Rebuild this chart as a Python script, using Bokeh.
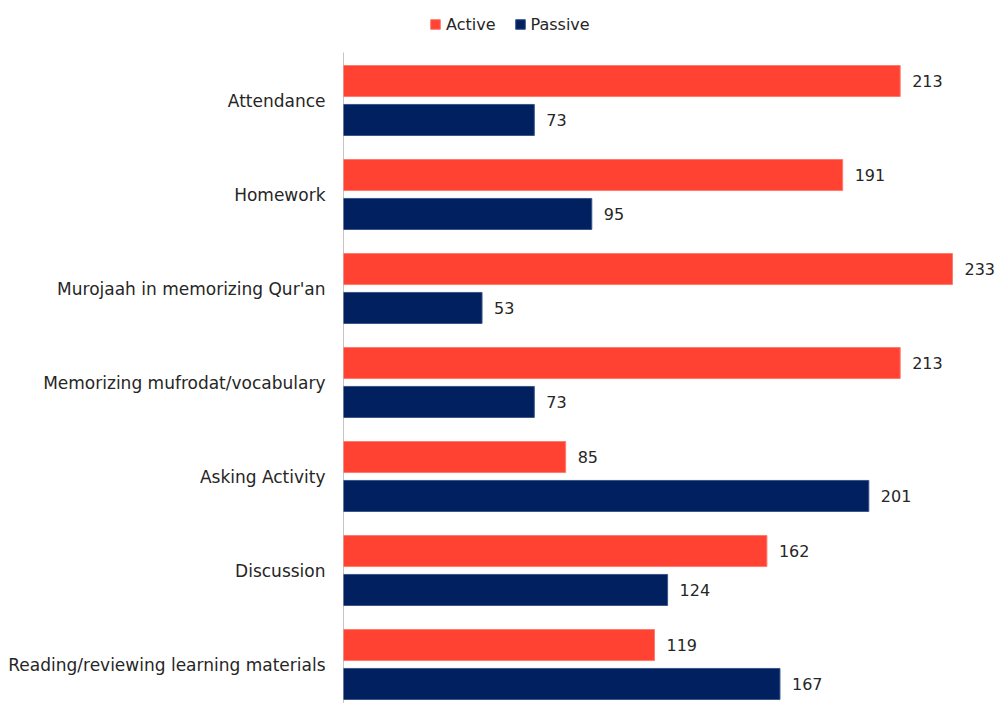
from bokeh.plotting import figure
from bokeh.models import Range1d, FixedTicker, ColumnDataSource, Legend, LegendItem
from bokeh.embed import file_html
from bokeh.resources import INLINE
from bokeh.core.properties import value

categories = ["Attendance", "Homework", "Murojaah in memorizing Qur'an",
              "Memorizing mufrodat/vocabulary", "Asking Activity", "Discussion",
              "Reading/reviewing learning materials"]
active = [213, 191, 233, 213, 85, 162, 119]
passive = [73, 95, 53, 73, 201, 124, 167]

RED = "#FF4231"
NAVY = "#002060"
FONT = "DejaVu Sans"

pos = [i + 0.5 for i in range(len(categories))]
off = 0.207
h = 0.33

src = ColumnDataSource(dict(
    ya=[p_ - off for p_ in pos], yp=[p_ + off for p_ in pos],
    active=active, passive=passive,
    alab=[str(v) for v in active], plab=[str(v) for v in passive],
))

# frame covers whole height so the legend can sit inside it
top = -53 / 94
bottom = top + 703 / 94
p = figure(width=999, height=703, output_backend="svg", toolbar_location=None,
           x_range=Range1d(0, 251.0), y_range=Range1d(bottom, top),
           x_axis_type=None, min_border_left=343, min_border_top=0,
           min_border_bottom=0, min_border_right=0)
p.outline_line_color = None
p.grid.visible = False
p.background_fill_color = "white"

# axis line (starts just above first band)
p.segment(x0=[0], y0=[top + 52 / 94], x1=[0], y1=[bottom], line_color="#8C8C8C", line_width=1)

ra = p.hbar(y="ya", right="active", left=0, height=h, source=src,
            fill_color=RED, line_color="#FF7A6C", line_width=1)
rp = p.hbar(y="yp", right="passive", left=0, height=h, source=src,
            fill_color=NAVY, line_color="#3A5488", line_width=1)

p.text(x="active", y="ya", text="alab", source=src, x_offset=12,
       text_baseline="middle", text_align="left", text_font=value(FONT),
       text_font_size="16px", text_color="#262626")
p.text(x="passive", y="yp", text="plab", source=src, x_offset=12,
       text_baseline="middle", text_align="left", text_font=value(FONT),
       text_font_size="16px", text_color="#262626")

ax = p.yaxis[0]
ax.ticker = FixedTicker(ticks=pos)
ax.major_label_overrides = {pv: c for pv, c in zip(pos, categories)}
ax.major_tick_line_color = None
ax.major_tick_out = 0
ax.major_tick_in = 0
ax.minor_tick_line_color = None
ax.axis_line_color = None
ax.major_label_standoff = 18
ax.major_label_text_font = FONT
ax.major_label_text_font_size = "17px"
ax.major_label_text_color = "#262626"

legend = Legend(items=[LegendItem(label="Active", renderers=[ra]),
                       LegendItem(label="Passive", renderers=[rp])],
                orientation="horizontal", location=(86, 669),
                glyph_width=12, glyph_height=12, label_standoff=5, spacing=18,
                padding=0, margin=0, border_line_color=None,
                background_fill_alpha=0, label_text_font=FONT,
                label_text_font_size="16px", label_text_color="#262626",
                label_height=20)
p.add_layout(legend, "center")

open("out.html", "w").write(file_html(p, INLINE))
